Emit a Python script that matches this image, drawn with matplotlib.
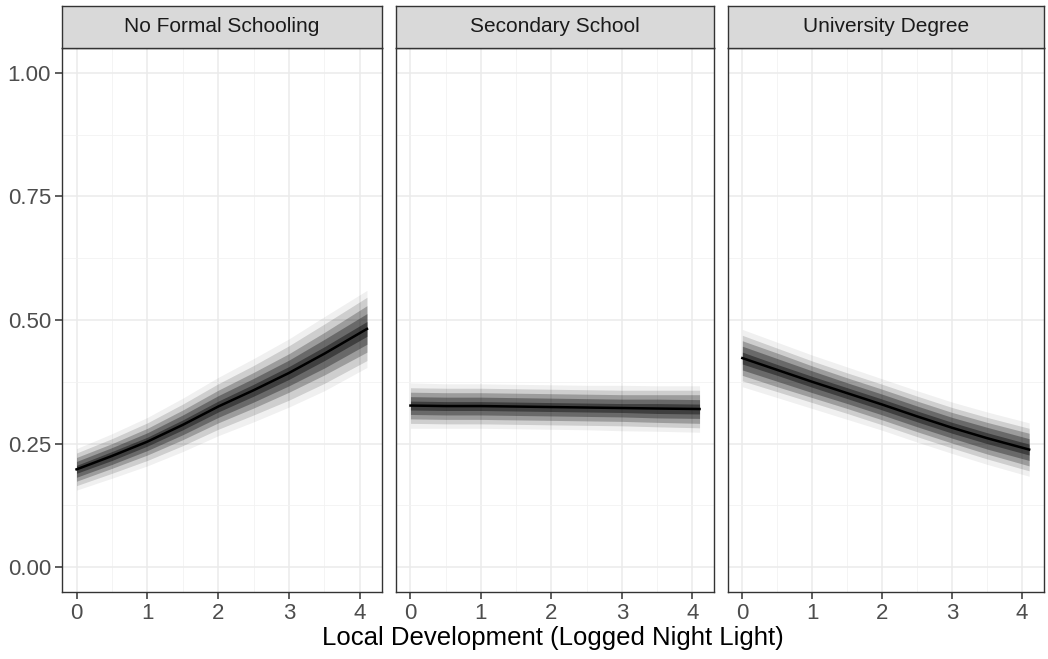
import matplotlib
matplotlib.use("Agg")
import matplotlib.pyplot as plt

plt.rcParams['font.family'] = ['Liberation Sans', 'DejaVu Sans']

facets = ["No Formal Schooling", "Secondary School", "University Degree"]
x_vals = [0.0, 0.5, 1.0, 1.5, 2.0, 2.5, 3.0, 3.5, 4.1]

# mean predicted probability per facet
mean_none = [0.198, 0.225, 0.254, 0.288, 0.325, 0.358, 0.393, 0.432, 0.482]
mean_sec = [0.327, 0.326, 0.326, 0.325, 0.324, 0.323, 0.322, 0.321, 0.320]
mean_uni = [0.423, 0.399, 0.375, 0.352, 0.329, 0.305, 0.282, 0.261, 0.238]

# half-widths of the simulation spread (faintest .. densest)
spread_none = [
    [0.042, 0.045, 0.049, 0.054, 0.059, 0.064, 0.069, 0.075, 0.078],
    [0.033, 0.035, 0.038, 0.042, 0.046, 0.050, 0.055, 0.060, 0.064],
    [0.024, 0.025, 0.027, 0.030, 0.033, 0.036, 0.039, 0.043, 0.047],
    [0.016, 0.017, 0.018, 0.020, 0.022, 0.024, 0.026, 0.029, 0.031],
    [0.008, 0.009, 0.009, 0.010, 0.011, 0.012, 0.013, 0.014, 0.015],
]
spread_sec = [
    [0.046, 0.045, 0.045, 0.045, 0.045, 0.045, 0.046, 0.046, 0.047],
    [0.036, 0.036, 0.036, 0.036, 0.036, 0.036, 0.036, 0.037, 0.038],
    [0.027, 0.027, 0.027, 0.027, 0.027, 0.027, 0.027, 0.028, 0.029],
    [0.018, 0.018, 0.018, 0.018, 0.018, 0.018, 0.018, 0.019, 0.019],
    [0.009, 0.009, 0.009, 0.009, 0.009, 0.009, 0.009, 0.010, 0.010],
]
spread_uni = [
    [0.058, 0.056, 0.054, 0.053, 0.052, 0.052, 0.052, 0.053, 0.054],
    [0.046, 0.044, 0.042, 0.041, 0.041, 0.041, 0.041, 0.042, 0.043],
    [0.035, 0.034, 0.032, 0.031, 0.031, 0.031, 0.031, 0.032, 0.033],
    [0.024, 0.023, 0.022, 0.021, 0.021, 0.021, 0.021, 0.022, 0.022],
    [0.012, 0.011, 0.011, 0.011, 0.011, 0.011, 0.011, 0.011, 0.011],
]

means = [mean_none, mean_sec, mean_uni]
spreads = [spread_none, spread_sec, spread_uni]

y_ticks = [0.00, 0.25, 0.50, 0.75, 1.00]
y_ticklabels = ["0.00", "0.25", "0.50", "0.75", "1.00"]
x_ticks = [0, 1, 2, 3, 4]
x_label = "Local Development (Logged Night Light)"

W, H = 1048, 659
fig = plt.figure(figsize=(W / 100, H / 100), dpi=100)

panel_px = [(62, 381.5), (396, 714), (728, 1043.5)]
top_px, strip_top_px, bottom_px = 48, 6, 592

band_alphas = [0.06, 0.14, 0.24, 0.32, 0.40]

for i, (l, r) in enumerate(panel_px):
    ax = fig.add_axes([l / W, 1 - bottom_px / H, (r - l) / W, (bottom_px - top_px) / H])
    ax.set_xlim(-0.205, 4.305)
    ax.set_ylim(-0.05, 1.05)
    ax.set_xticks(x_ticks)
    ax.set_xticks([0.5, 1.5, 2.5, 3.5], minor=True)
    ax.set_yticks(y_ticks)
    ax.set_yticks([0.125, 0.375, 0.625, 0.875], minor=True)
    ax.grid(True, which='major', color='#ebebeb', linewidth=1.1)
    ax.grid(True, which='minor', color='#f2f2f2', linewidth=0.6)
    ax.set_axisbelow(True)
    m = means[i]
    for sp, a in zip(spreads[i], band_alphas):
        lo = [mv - s for mv, s in zip(m, sp)]
        hi = [mv + s for mv, s in zip(m, sp)]
        ax.fill_between(x_vals, lo, hi, color='black', alpha=a, linewidth=0)
    ax.plot(x_vals, m, color='black', linewidth=1.8)
    for s in ax.spines.values():
        s.set_color('#333333')
        s.set_linewidth(1.0)
    ax.tick_params(axis='both', which='major', length=5, width=1.1, color='#333333',
                   labelsize=16, labelcolor='#4d4d4d', pad=3)
    ax.tick_params(which='minor', length=0)
    if i == 0:
        ax.set_yticklabels(y_ticklabels)
    else:
        ax.tick_params(axis='y', which='both', left=False, labelleft=False)

    sax = fig.add_axes([l / W, 1 - top_px / H, (r - l) / W, (top_px - strip_top_px) / H])
    sax.set_facecolor('#d9d9d9')
    sax.set_xticks([])
    sax.set_yticks([])
    for s in sax.spines.values():
        s.set_color('#333333')
        s.set_linewidth(1.0)
    sax.text(0.5, 0.5, facets[i], ha='center', va='center', fontsize=15,
             color='#1a1a1a', transform=sax.transAxes)

fig.text((62 + 1043.5) / 2 / W, 1 - 638 / H, x_label, ha='center', va='center',
         fontsize=18.5, color='black')

fig.savefig("out.png", dpi=100, facecolor='white')
